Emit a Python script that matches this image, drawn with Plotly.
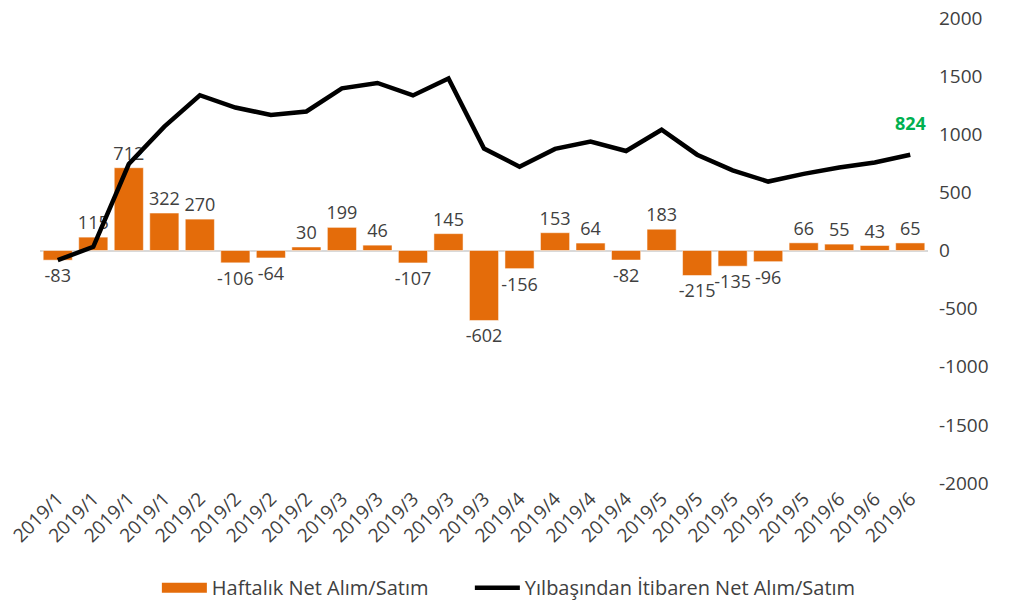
import plotly.graph_objects as go

categories = ["2019/1"] * 4 + ["2019/2"] * 4 + ["2019/3"] * 5 + ["2019/4"] * 4 + ["2019/5"] * 5 + ["2019/6"] * 3
weekly = [-83, 115, 712, 322, 270, -106, -64, 30, 199, 46, -107, 145, -602, -156, 153, 64, -82, 183, -215, -135, -96, 66, 55, 43, 65]
cumulative = [-83, 32, 744, 1066, 1336, 1230, 1166, 1196, 1395, 1441, 1334, 1479, 877, 721, 874, 938, 856, 1039, 824, 689, 593, 659, 714, 757, 824]
y_ticks = [2000, 1500, 1000, 500, 0, -500, -1000, -1500, -2000]

idx = list(range(len(categories)))
FONT = "Open Sans"
TXT = "#404040"
ORANGE = "#E46C0A"

fig = go.Figure()
fig.add_trace(go.Bar(
    x=idx, y=weekly, name="Haftalık Net Alım/Satım", showlegend=False,
    marker=dict(color=ORANGE, line=dict(color="#ffffff", width=0.5)),
    text=[str(v) for v in weekly], textposition="outside", constraintext="none",
    textfont=dict(family=FONT, size=18, color=TXT),
    cliponaxis=False,
))
# legend swatch for bars (wide orange rectangle like the reference)
fig.add_trace(go.Scatter(
    x=[None], y=[None], name="Haftalık Net Alım/Satım" + "\u00a0" * 7, mode="lines",
    line=dict(color=ORANGE, width=11), hoverinfo="skip",
))
fig.add_trace(go.Scatter(
    x=idx, y=cumulative, name="Yılbaşından İtibaren Net Alım/Satım",
    mode="lines", line=dict(color="#000000", width=4.5),
))
fig.add_annotation(
    x=idx[-1], y=cumulative[-1], text="<b>%d</b>" % cumulative[-1],
    showarrow=False, yshift=32, font=dict(family=FONT, size=18, color="#00B050"),
)

# page body has an 8px margin, so the figure is sized to the remaining viewport
fig.update_layout(
    width=1017, height=598,
    paper_bgcolor="white", plot_bgcolor="white",
    margin=dict(l=32, r=97, t=10, b=123, autoexpand=False),
    bargap=0.18,
    font=dict(family=FONT, size=18, color=TXT),
    showlegend=True,
    legend=dict(orientation="h", x=0.528, xanchor="center", y=-0.225, yanchor="middle",
                font=dict(family=FONT, size=20, color=TXT), itemwidth=45,
                tracegroupgap=0),
    xaxis=dict(tickmode="array", tickvals=idx, ticktext=categories, tickangle=-45,
               range=[-0.5, len(idx) - 0.5], showgrid=False, zeroline=False,
               showline=False, automargin=False, ticklabeloverflow="allow",
               tickfont=dict(family=FONT, size=19, color=TXT)),
    yaxis=dict(side="right", range=[-2000, 2000], tickmode="array", tickvals=y_ticks,
               ticktext=[str(v) for v in y_ticks],
               showgrid=False, zeroline=True, zerolinecolor="#d9d9d9", zerolinewidth=2,
               showline=False, ticklabelstandoff=10, automargin=False,
               ticklabeloverflow="allow",
               tickfont=dict(family=FONT, size=19, color=TXT)),
)

fig.write_html("out.html")
